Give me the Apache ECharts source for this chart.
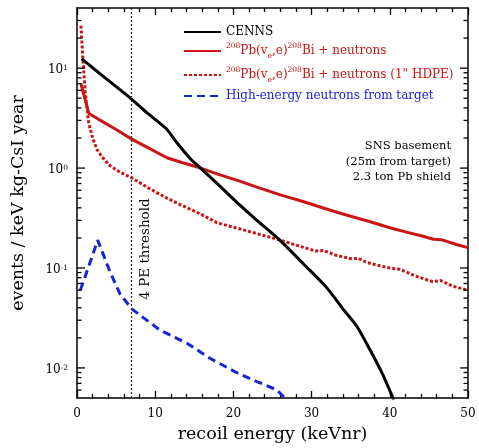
<!DOCTYPE html>
<html><head><meta charset="utf-8">
<script src="https://cdn.jsdelivr.net/npm/echarts@6/dist/echarts.min.js"></script>
<style>html,body{margin:0;padding:0;background:#fff}#c{width:479px;height:448px}</style>
</head><body><div id="c"></div>
<script>
// ---- data ----
const cennsX = [0.6, 2, 4, 7, 9, 10.5, 11.5, 12.8, 14.5, 15.8, 18, 20.9, 23, 26, 29, 31.9, 34, 35.8, 37.5, 39, 40.5];
const cennsY = [12.4, 10.1, 7.55, 4.88, 3.54, 2.85, 2.44, 1.78, 1.24, 1.0, 0.69, 0.42, 0.30, 0.188, 0.109, 0.064, 0.039, 0.026, 0.015, 0.0089, 0.0048];

const pbX = [0.5, 1.5, 3, 5, 7, 9, 11.5, 13.5, 15.3, 15.8, 18, 20.8, 23, 26, 29, 31, 32.8, 35, 37.5, 40, 42, 44, 45.6, 46.6, 48.5, 50];
const pbY = [7.0, 3.54, 3.0, 2.43, 1.95, 1.61, 1.27, 1.13, 1.03, 1.0, 0.87, 0.74, 0.645, 0.54, 0.46, 0.41, 0.37, 0.33, 0.29, 0.253, 0.23, 0.21, 0.194, 0.192, 0.172, 0.16];

const hdpeX = [0.5, 0.8, 1.07, 1.5, 2, 2.56, 3.3, 4.26, 5.5, 7, 9, 11.5, 13.5, 15.7, 17.9, 20, 23, 26, 28.5, 30.5, 31.5, 33, 35, 36, 37, 39, 40, 41.3, 43.5, 45.5, 46.5, 48, 50];
const hdpeY = [26.7, 11.0, 5.6, 2.82, 2.0, 1.53, 1.27, 1.05, 0.91, 0.80, 0.64, 0.50, 0.42, 0.35, 0.284, 0.256, 0.221, 0.19, 0.165, 0.148, 0.150, 0.135, 0.124, 0.125, 0.114, 0.104, 0.100, 0.097, 0.082, 0.073, 0.075, 0.066, 0.060];

const heX = [0.43, 1.5, 2.65, 4.26, 5.5, 7, 10.6, 14.1, 17, 20.5, 23, 25.6, 26.8];
const heY = [0.060, 0.104, 0.19, 0.09, 0.055, 0.039, 0.0239, 0.0176, 0.0125, 0.0089, 0.0073, 0.006, 0.0048];

const threshold = [7];

const xRange = [0, 50];
const yRange = [0.005, 40];
const yMajorTicks = [0.01, 0.1, 1, 10];
const yMinorTicks = [0.006, 0.007, 0.008, 0.009, 0.02, 0.03, 0.04, 0.05, 0.06, 0.07, 0.08, 0.09,
  0.2, 0.3, 0.4, 0.5, 0.6, 0.7, 0.8, 0.9, 2, 3, 4, 5, 6, 7, 8, 9, 20, 30];
const yTickExponents = ['-2', '-1', '0', '1'];

const seriesNames = ['CENNS', 'Pb', 'PbHDPE', 'HE'];
const legendTexts = {
  CENNS: 'CENNS',
  Pb: '{sup|208}Pb(v{sub|e},e){sup|208}Bi + neutrons',
  PbHDPE: '{sup|208}Pb(v{sub|e},e){sup|208}Bi + neutrons (1" HDPE)',
  HE: 'High-energy neutrons from target'
};
const noteLines = ['SNS basement', '(25m from target)', '2.3 ton Pb shield'];

// ---- chart ----
const FONT = 'DejaVu Serif';
const RED = '#cc1414';
const BLUE = '#1a22d8';
const MAJOR_LEN = 8, MINOR_LEN = 4.5;
const zip = (xs, ys) => xs.map((x, i) => [x, ys[i]]);
const lg = v => Math.log10(v);

const chart = echarts.init(document.getElementById('c'), null, {renderer: 'canvas'});

// main log axis: carries the data and the labels
const yMain = {
  type: 'log', logBase: 10, min: yRange[0], max: yRange[1], position: 'left',
  axisLine: {show: true, onZero: false, lineStyle: {color: '#000', width: 1.5}},
  axisTick: {show: false}, minorTick: {show: false}, splitLine: {show: false},
  axisLabel: {
    show: true, customValues: yMajorTicks, margin: 9, padding: [4, 0, 0, 0],
    fontFamily: FONT, fontSize: 12, color: '#000',
    formatter: v => {
      let best = 0, bd = Infinity;
      yMajorTicks.forEach((t, i) => { const d = Math.abs(lg(+v) - lg(t)); if (d < bd) { bd = d; best = i; } });
      return bd < 1e-6 ? '10{sup|' + yTickExponents[best] + '}' : '';
    },
    rich: {sup: {fontFamily: FONT, fontSize: 7.5, lineHeight: 7, verticalAlign: 'top', color: '#000'}}
  },
  name: 'events / keV kg-CsI year', nameLocation: 'middle', nameGap: 50,
  nameTextStyle: {fontFamily: FONT, fontSize: 17.5, color: '#000'}
};
const yRightFrame = {
  type: 'log', logBase: 10, min: yRange[0], max: yRange[1], position: 'right',
  axisLine: {show: true, onZero: false, lineStyle: {color: '#000', width: 1.5}},
  axisTick: {show: false}, minorTick: {show: false}, axisLabel: {show: false}, splitLine: {show: false}
};
function xAxisDef(pos, labels) {
  return {
    type: 'value', min: xRange[0], max: xRange[1], interval: 10, position: pos,
    axisLine: {show: true, onZero: false, lineStyle: {color: '#000', width: 1.5}},
    axisTick: {show: true, inside: true, length: 7, lineStyle: {color: '#000', width: 1.3}},
    minorTick: {show: true, splitNumber: 5, length: 4, lineStyle: {color: '#000', width: 1.3}},
    splitLine: {show: false},
    axisLabel: labels ? {show: true, margin: 10, fontFamily: FONT, fontSize: 12, color: '#000'} : {show: false}
  };
}

const xb = xAxisDef('bottom', true);
xb.name = 'recoil energy (keVnr)';
xb.nameLocation = 'middle';
xb.nameGap = 27;
xb.nameTextStyle = {fontFamily: FONT, fontSize: 17.5, color: '#000'};

// y tick marks (inward, on both sides) placed through the log axis' own coordinates
const yTickData = yMajorTicks.map(v => [xRange[0], v, MAJOR_LEN]).concat(yMinorTicks.map(v => [xRange[0], v, MINOR_LEN]));
const tickSeries = {
  type: 'custom', name: 'yticks', coordinateSystem: 'cartesian2d', xAxisIndex: 0, yAxisIndex: 0,
  silent: true, clip: false, z: 6, data: yTickData,
  renderItem: (params, api) => {
    const v = api.value(1), len = api.value(2);
    const pL = api.coord([xRange[0], v]);
    const pR = api.coord([xRange[1], v]);
    const st = {stroke: '#000', lineWidth: 1.3};
    return {type: 'group', children: [
      {type: 'line', shape: {x1: pL[0], y1: pL[1], x2: pL[0] + len, y2: pL[1]}, style: st},
      {type: 'line', shape: {x1: pR[0] - len, y1: pR[1], x2: pR[0], y2: pR[1]}, style: st}
    ]};
  }
};

const legendTops = [32, 51, 75, 96];
const legendColors = ['#000', RED, RED, BLUE];
const legends = seriesNames.map((n, i) => ({
  show: true, orient: 'vertical', left: 183, top: legendTops[i] - 9, padding: 0,
  itemWidth: 37, itemHeight: 18, itemGap: 0, selectedMode: false,
  itemStyle: {color: 'transparent', borderWidth: 0, opacity: 0},
  data: [{name: n, textStyle: {color: legendColors[i]}, itemStyle: {color: 'transparent', borderWidth: 0, opacity: 0}}],
  formatter: name => legendTexts[name],
  textStyle: {fontFamily: FONT, fontSize: 12, lineHeight: 18, color: legendColors[i],
    rich: {
      sup: {fontFamily: FONT, fontSize: 7.5, lineHeight: 8, verticalAlign: 'top'},
      sub: {fontFamily: FONT, fontSize: 7.5, lineHeight: 8, verticalAlign: 'bottom'}
    }}
}));

const option = {
  animation: false,
  backgroundColor: '#fff',
  grid: {left: 77, right: 11, top: 8, bottom: 48},
  legend: legends,
  xAxis: [xb, xAxisDef('top', false)],
  yAxis: [yMain, yRightFrame],
  series: [
    {name: 'CENNS', type: 'line', data: zip(cennsX, cennsY), showSymbol: false, symbol: 'none', smooth: 0.25,
     lineStyle: {color: '#000', width: 3}, itemStyle: {color: '#000'}, z: 4,
     markLine: {silent: true, symbol: ['none', 'none'], label: {show: false},
       lineStyle: {color: '#333', width: 1.3, type: [2, 2]},
       data: threshold.map(t => ({xAxis: t}))}},
    {name: 'Pb', type: 'line', data: zip(pbX, pbY), showSymbol: false, symbol: 'none',
     lineStyle: {color: RED, width: 3}, itemStyle: {color: RED}, z: 3},
    {name: 'PbHDPE', type: 'line', data: zip(hdpeX, hdpeY), showSymbol: false, symbol: 'none',
     lineStyle: {color: RED, width: 3, type: [3, 2]}, itemStyle: {color: RED}, z: 3},
    {name: 'HE', type: 'line', data: zip(heX, heY), showSymbol: false, symbol: 'none',
     lineStyle: {color: BLUE, width: 3, type: [8, 5]}, itemStyle: {color: BLUE}, z: 3},
    tickSeries
  ],
  graphic: [
    {type: 'text', x: 451, y: 162, style: {text: noteLines.join('\n'), fontFamily: FONT, fontSize: 11.5, lineHeight: 15.5,
      textAlign: 'right', textVerticalAlign: 'middle', fill: '#000'}},
    {type: 'text', x: 145, y: 249, rotation: Math.PI / 2, style: {text: '4 PE threshold', fontFamily: FONT, fontSize: 13.5,
      textAlign: 'center', textVerticalAlign: 'middle', fill: '#000'}}
  ]
};
chart.setOption(option);
</script></body></html>
